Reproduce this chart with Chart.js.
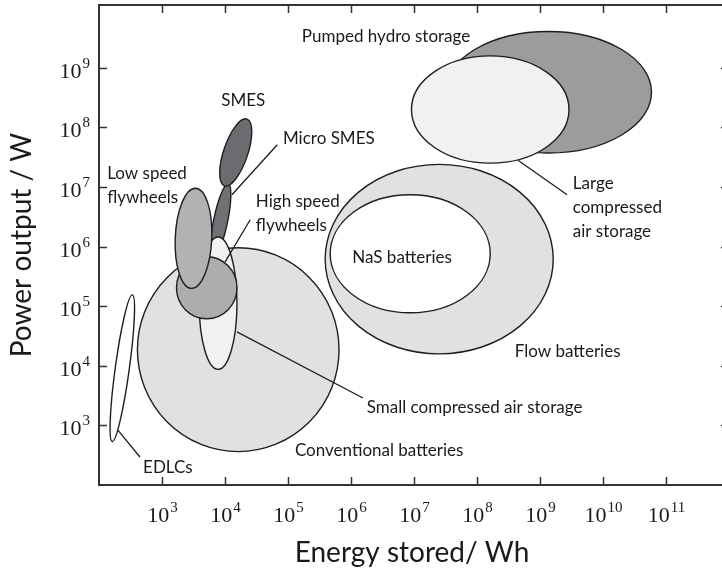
<!DOCTYPE html>
<html>
<head>
<meta charset="utf-8">
<script src="https://cdn.jsdelivr.net/npm/chart.js@4/dist/chart.umd.min.js"></script>
<style>
  html, body { margin: 0; padding: 0; overflow: hidden; background: #fff; }
  canvas { display: block; }
</style>
</head>
<body>
<canvas id="ragone" width="732" height="575"></canvas>
<script>
// Storage technologies, in drawing order (back to front)
const technologies = [
  'Pumped hydro storage', 'Large compressed air storage', 'Flow batteries', 'NaS batteries',
  'Micro SMES', 'SMES', 'EDLCs', 'Conventional batteries',
  'Small compressed air storage', 'High speed flywheels', 'Low speed flywheels'
];
// Centre of each region, as log10 of energy (Wh) and power (W)
const energyCentreExp = [9.13, 8.21, 7.40, 6.94, 3.93, 4.17, 2.37, 4.21, 3.89, 3.71, 3.50];
const powerCentreExp  = [8.59, 8.30, 5.79, 5.88, 6.43, 7.58, 3.96, 4.27, 5.05, 5.31, 6.14];
// First semi-axis of each region, in decades (energy, power)
const axisAEnergy = [1.64, 1.25, 1.81, 1.27, 0.12, 0.18, 0.16, 1.60, 0.30, 0.48, 0.03];
const axisAPower  = [0.00, 0.00, 0.00, 0.00, 0.62, 0.56, 1.23, 0.00, 0.00, 0.00, 0.84];
// Second semi-axis of each region, in decades (energy, power)
const axisBEnergy = [0.00, 0.00, 0.00, 0.00, 0.11, 0.18, 0.11, 0.00, 0.00, 0.00, 0.29];
const axisBPower  = [1.02, 0.90, 1.59, 0.99, -0.02, -0.07, -0.02, 1.71, 1.11, 0.52, 0.00];

// Decades that carry a tick and a label
const energyTickExps = [3, 4, 5, 6, 7, 8, 9, 10, 11];
const powerTickExps  = [3, 4, 5, 6, 7, 8, 9];

// Fill colour per technology
const fillColours = {
  'Pumped hydro storage': '#9c9c9f',
  'Large compressed air storage': '#f1f1f1',
  'Flow batteries': '#e1e1e3',
  'NaS batteries': '#ffffff',
  'Micro SMES': '#717175',
  'SMES': '#6c6c70',
  'EDLCs': '#ffffff',
  'Conventional batteries': '#e1e1e3',
  'Small compressed air storage': '#f1f1f1',
  'High speed flywheels': '#adadaf',
  'Low speed flywheels': '#b2b2b4'
};

// Text labels (anchor given as log10 energy / log10 power) and leader lines
const labelNotes = [
  { lines: ['Pumped hydro storage'], e: 5.22, p: 9.43 },
  { lines: ['SMES'], e: 3.94, p: 8.36 },
  { lines: ['Micro SMES'], e: 4.92, p: 7.72 },
  { lines: ['Low speed', 'flywheels'], e: 2.13, p: 7.13 },
  { lines: ['High speed', 'flywheels'], e: 4.49, p: 6.66 },
  { lines: ['NaS batteries'], e: 6.02, p: 5.73 },
  { lines: ['Large', 'compressed', 'air storage'], e: 9.52, p: 6.97 },
  { lines: ['Flow batteries'], e: 8.60, p: 4.15 },
  { lines: ['Small compressed air storage'], e: 6.25, p: 3.21 },
  { lines: ['Conventional batteries'], e: 5.11, p: 2.49 },
  { lines: ['EDLCs'], e: 2.70, p: 2.20 }
];
const leaderLines = [
  { from: [4.83, 7.71], to: [4.11, 6.87] },   // Micro SMES
  { from: [4.40, 6.45], to: [4.00, 5.74] },   // High speed flywheels
  { from: [8.65, 7.45], to: [9.43, 6.87] },   // Large compressed air storage
  { from: [4.19, 4.57], to: [6.19, 3.46] },   // Small compressed air storage
  { from: [2.30, 2.92], to: [2.65, 2.47] }    // EDLCs
];

const sansFont = 'Lato, "DejaVu Sans", sans-serif';
const serifFont = '"Liberation Serif", "DejaVu Serif", serif';

const ragonePlugin = {
  id: 'ragone',
  afterDatasetsDraw(chart) {
    const ctx = chart.ctx;
    const xs = chart.scales.x, ys = chart.scales.y;
    const px = v => xs.getPixelForValue(Math.pow(10, v));
    const py = v => ys.getPixelForValue(Math.pow(10, v));
    const area = chart.chartArea;

    // technology regions
    technologies.forEach((name, i) => {
      const cx = px(energyCentreExp[i]), cy = py(powerCentreExp[i]);
      const ax = px(energyCentreExp[i] + axisAEnergy[i]) - cx;
      const ay = py(powerCentreExp[i] + axisAPower[i]) - cy;
      const bx = px(energyCentreExp[i] + axisBEnergy[i]) - cx;
      const by = py(powerCentreExp[i] + axisBPower[i]) - cy;
      ctx.save();
      ctx.beginPath();
      ctx.transform(ax, ay, bx, by, cx, cy);
      ctx.arc(0, 0, 1, 0, Math.PI * 2);
      ctx.restore();
      ctx.save();
      ctx.fillStyle = fillColours[name];
      ctx.fill();
      ctx.lineWidth = 1.4;
      ctx.strokeStyle = '#1e1e1e';
      ctx.stroke();
      ctx.restore();
    });

    // leader lines
    ctx.save();
    ctx.strokeStyle = '#1e1e1e';
    ctx.lineWidth = 1.3;
    leaderLines.forEach(l => {
      ctx.beginPath();
      ctx.moveTo(px(l.from[0]), py(l.from[1]));
      ctx.lineTo(px(l.to[0]), py(l.to[1]));
      ctx.stroke();
    });
    ctx.restore();

    // text labels
    ctx.save();
    ctx.fillStyle = '#1a1a1a';
    ctx.font = '17px ' + sansFont;
    ctx.textAlign = 'left';
    ctx.textBaseline = 'alphabetic';
    labelNotes.forEach(n => {
      n.lines.forEach((t, k) => ctx.fillText(t, px(n.e), py(n.p) + k * 24));
    });
    ctx.restore();

    // frame
    ctx.save();
    ctx.strokeStyle = '#333';
    ctx.lineWidth = 2;
    ctx.strokeRect(area.left, area.top, area.right - area.left, area.bottom - area.top);

    // inward tick marks on all four sides
    ctx.lineWidth = 1.5;
    const tl = 8;
    ctx.beginPath();
    energyTickExps.forEach(e => {
      const x = Math.round(px(e)) + 0.5;
      ctx.moveTo(x, area.bottom); ctx.lineTo(x, area.bottom - tl);
      ctx.moveTo(x, area.top); ctx.lineTo(x, area.top + tl);
    });
    powerTickExps.forEach(p => {
      const y = Math.round(py(p)) + 0.5;
      ctx.moveTo(area.left, y); ctx.lineTo(area.left + tl, y);
      ctx.moveTo(area.right, y); ctx.lineTo(area.right - tl, y);
    });
    ctx.stroke();
    ctx.restore();

    // tick labels: 10 with a raised exponent
    ctx.save();
    ctx.fillStyle = '#1a1a1a';
    ctx.textBaseline = 'alphabetic';
    ctx.textAlign = 'left';
    const baseFont = '22px ' + serifFont, expFont = '15px ' + serifFont;
    const measure = (txt, f) => { ctx.font = f; return ctx.measureText(txt).width; };
    energyTickExps.forEach(e => {
      const w1 = measure('10', baseFont), w2 = measure(String(e), expFont);
      const x0 = px(e) - (w1 + w2) / 2;
      const yb = area.bottom + 37;
      ctx.font = baseFont; ctx.fillText('10', x0, yb);
      ctx.font = expFont; ctx.fillText(String(e), x0 + w1 + 1, yb - 10);
    });
    powerTickExps.forEach(p => {
      const w1 = measure('10', baseFont), w2 = measure(String(p), expFont);
      const x0 = area.left - 10 - (w1 + w2);
      const yb = py(p) + 10;
      ctx.font = baseFont; ctx.fillText('10', x0, yb);
      ctx.font = expFont; ctx.fillText(String(p), x0 + w1 + 1, yb - 10);
    });
    ctx.restore();

    // axis titles
    ctx.save();
    ctx.fillStyle = '#1a1a1a';
    ctx.font = '28px ' + sansFont;
    ctx.textAlign = 'center';
    ctx.textBaseline = 'alphabetic';
    ctx.fillText('Energy stored/ Wh', 412, 562);
    ctx.translate(31, 245);
    ctx.rotate(-Math.PI / 2);
    ctx.fillText('Power output / W', 0, 0);
    ctx.restore();
  }
};

new Chart(document.getElementById('ragone'), {
  type: 'scatter',
  data: {
    datasets: [{
      label: 'Region centres',
      data: technologies.map((t, i) => ({ x: Math.pow(10, energyCentreExp[i]), y: Math.pow(10, powerCentreExp[i]) })),
      pointRadius: 0,
      showLine: false
    }]
  },
  options: {
    responsive: false,
    animation: false,
    events: [],
    layout: { padding: { left: 99, right: 3, top: 5, bottom: 90 } },
    plugins: { legend: { display: false }, tooltip: { enabled: false } },
    scales: {
      x: { type: 'logarithmic', min: 100, max: 1e12, display: false },
      y: { type: 'logarithmic', min: 100, max: Math.pow(10, 10.054), display: false }
    }
  },
  plugins: [ragonePlugin]
});
</script>
</body>
</html>
